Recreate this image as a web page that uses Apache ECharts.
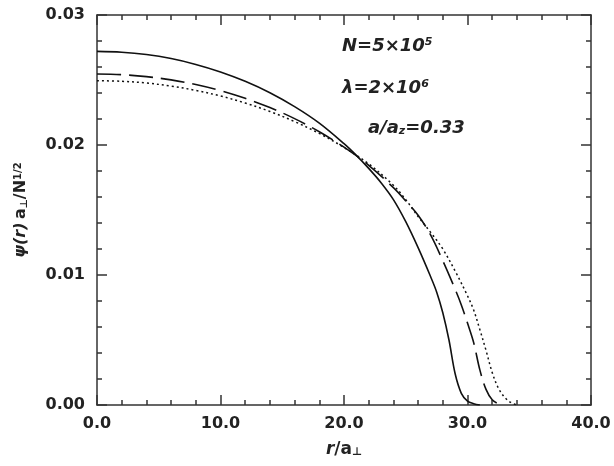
<!DOCTYPE html>
<html><head><meta charset="utf-8">
<script src="https://cdn.jsdelivr.net/npm/echarts@6/dist/echarts.min.js"></script>
<style>html,body{margin:0;padding:0;background:#fff}#c{width:614px;height:466px}</style>
</head><body><div id="c"></div>
<script>
// Tick labels
const xTickLabels = ['0.0', '10.0', '20.0', '30.0', '40.0'];
const yTickLabels = ['0.00', '0.01', '0.02', '0.03'];

// Solid curve
const rSolid   = [0, 2, 4, 6, 8, 10, 12, 14, 16, 18, 20, 21, 22, 23, 24, 25, 26, 27, 27.5, 28, 28.5, 29, 29.5, 30, 30.5, 31];
const psiSolid = [0.0272, 0.02714, 0.02696, 0.02665, 0.0262, 0.02562, 0.0249, 0.02402, 0.02295, 0.02168, 0.0201, 0.0192, 0.0182, 0.0171, 0.0158, 0.0141, 0.0121, 0.0099, 0.0087, 0.0071, 0.0050, 0.0024, 0.0009, 0.0003, 0.0001, 0];

// Dashed curve
const rDashed   = [0, 2, 4, 6, 8, 10, 12, 14, 16, 18, 20, 22, 24, 25, 26, 27, 28, 29, 29.5, 30, 30.5, 31, 31.5, 32, 32.5, 33];
const psiDashed = [0.02546, 0.02541, 0.02526, 0.02501, 0.02465, 0.02418, 0.02359, 0.02288, 0.02203, 0.02102, 0.01983, 0.01844, 0.01672, 0.0157, 0.0146, 0.0131, 0.0111, 0.0089, 0.0077, 0.0063, 0.0048, 0.0027, 0.0012, 0.0004, 0.0001, 0];

// Dotted curve
const rDotted   = [0, 2, 4, 6, 8, 10, 12, 14, 16, 18, 20, 22, 24, 25, 26, 27, 28, 29, 30, 30.5, 31, 31.5, 32, 32.5, 33, 33.5, 34];
const psiDotted = [0.02495, 0.0249, 0.02477, 0.02453, 0.0242, 0.02377, 0.02323, 0.02258, 0.0218, 0.02089, 0.01981, 0.01855, 0.0169, 0.0158, 0.0145, 0.0133, 0.0120, 0.0103, 0.0084, 0.0073, 0.0058, 0.0042, 0.0025, 0.0013, 0.0006, 0.0002, 0];

const pairs = (xs, ys) => xs.map((x, i) => [x, ys[i]]);

const FONT = 'DejaVu Sans';
const tickFont = { fontFamily: FONT, fontSize: 16, fontWeight: 'bold', color: '#222' };
const lineStyleAxis = { color: '#333', width: 1.5 };

function xAx(pos, showLabel) {
  return {
    type: 'value', position: pos, min: 0, max: 40, interval: 10,
    axisLine: { show: true, onZero: false, lineStyle: lineStyleAxis },
    axisTick: { show: true, inside: true, length: 10, lineStyle: lineStyleAxis },
    minorTick: { show: true, splitNumber: 5, length: 5, lineStyle: lineStyleAxis },
    splitLine: { show: false },
    axisLabel: showLabel ? Object.assign({ margin: 11, formatter: (v, i) => xTickLabels[i] }, tickFont) : { show: false },
    name: showLabel ? '{i|r}{n|/a}{sub|⊥}' : '',
    nameLocation: 'middle', nameGap: 36,
    nameTextStyle: {
      rich: {
        i: { fontFamily: FONT, fontStyle: 'italic', fontSize: 17, fontWeight: 'bold', color: '#222' },
        n: { fontFamily: FONT, fontSize: 17, fontWeight: 'bold', color: '#222' },
        sub: { fontFamily: FONT, fontSize: 11, fontWeight: 'bold', color: '#222', verticalAlign: 'bottom', lineHeight: 12, padding: [8, 0, 0, 0] }
      }
    }
  };
}
function yAx(pos, showLabel) {
  return {
    type: 'value', position: pos, min: 0, max: 0.03, interval: 0.01,
    axisLine: { show: true, onZero: false, lineStyle: lineStyleAxis },
    axisTick: { show: true, inside: true, length: 10, lineStyle: lineStyleAxis },
    minorTick: { show: true, splitNumber: 5, length: 5, lineStyle: lineStyleAxis },
    splitLine: { show: false },
    axisLabel: showLabel ? Object.assign({ margin: 12, formatter: (v, i) => yTickLabels[i] }, tickFont) : { show: false },
    name: showLabel ? '{i|ψ(r)} {n|a}{sub|⊥}{n|/N}{sup|1/2}' : '',
    nameLocation: 'middle', nameGap: 68, nameRotate: 90,
    nameTextStyle: {
      rich: {
        i: { fontFamily: FONT, fontStyle: 'italic', fontSize: 16, fontWeight: 'bold', color: '#222' },
        n: { fontFamily: FONT, fontSize: 16, fontWeight: 'bold', color: '#222' },
        sub: { fontFamily: FONT, fontSize: 10, fontWeight: 'bold', color: '#222', verticalAlign: 'bottom', lineHeight: 12, padding: [8, 0, 0, 0] },
        sup: { fontFamily: FONT, fontSize: 10, fontWeight: 'bold', color: '#222', verticalAlign: 'top', lineHeight: 10, padding: [0, 0, 8, 0] }
      }
    }
  };
}

const annFont = 'italic bold 18px "DejaVu Sans"';
const option = {
  animation: false,
  backgroundColor: '#fff',
  grid: { left: 97, right: 23, top: 15, bottom: 61, containLabel: false },
  xAxis: [xAx('bottom', true), xAx('top', false)],
  yAxis: [yAx('left', true), yAx('right', false)],
  series: [
    { type: 'line', xAxisIndex: 0, yAxisIndex: 0, data: pairs(rSolid, psiSolid), showSymbol: false, smooth: 0.35,
      lineStyle: { color: '#111', width: 1.6, type: 'solid' } },
    { type: 'line', xAxisIndex: 0, yAxisIndex: 0, data: pairs(rDashed, psiDashed), showSymbol: false, smooth: 0.35,
      lineStyle: { color: '#111', width: 1.6, type: [24, 8] } },
    { type: 'line', xAxisIndex: 0, yAxisIndex: 0, data: pairs(rDotted, psiDotted), showSymbol: false, smooth: 0.35,
      lineStyle: { color: '#111', width: 1.5, type: [2, 3] } }
  ],
  graphic: [
    { type: 'text', left: 342, top: 37, style: { text: 'N=5×10{s|5}', font: annFont, fill: '#222',
      rich: { s: { font: 'italic bold 11px "DejaVu Sans"', fill: '#222', verticalAlign: 'top', lineHeight: 10, padding: [0, 0, 10, 0] } } } },
    { type: 'text', left: 342, top: 79, style: { text: 'λ=2×10{s|6}', font: annFont, fill: '#222',
      rich: { s: { font: 'italic bold 11px "DejaVu Sans"', fill: '#222', verticalAlign: 'top', lineHeight: 10, padding: [0, 0, 10, 0] } } } },
    { type: 'text', left: 368, top: 116, style: { text: 'a/a{b|z}=0.33', font: annFont, fill: '#222',
      rich: { b: { font: 'italic bold 11px "DejaVu Sans"', fill: '#222', verticalAlign: 'bottom', lineHeight: 10, padding: [10, 0, 0, 0] } } } }
  ]
};
const chart = echarts.init(document.getElementById('c'), null, { renderer: 'canvas' });
chart.setOption(option);
</script>
</body></html>
